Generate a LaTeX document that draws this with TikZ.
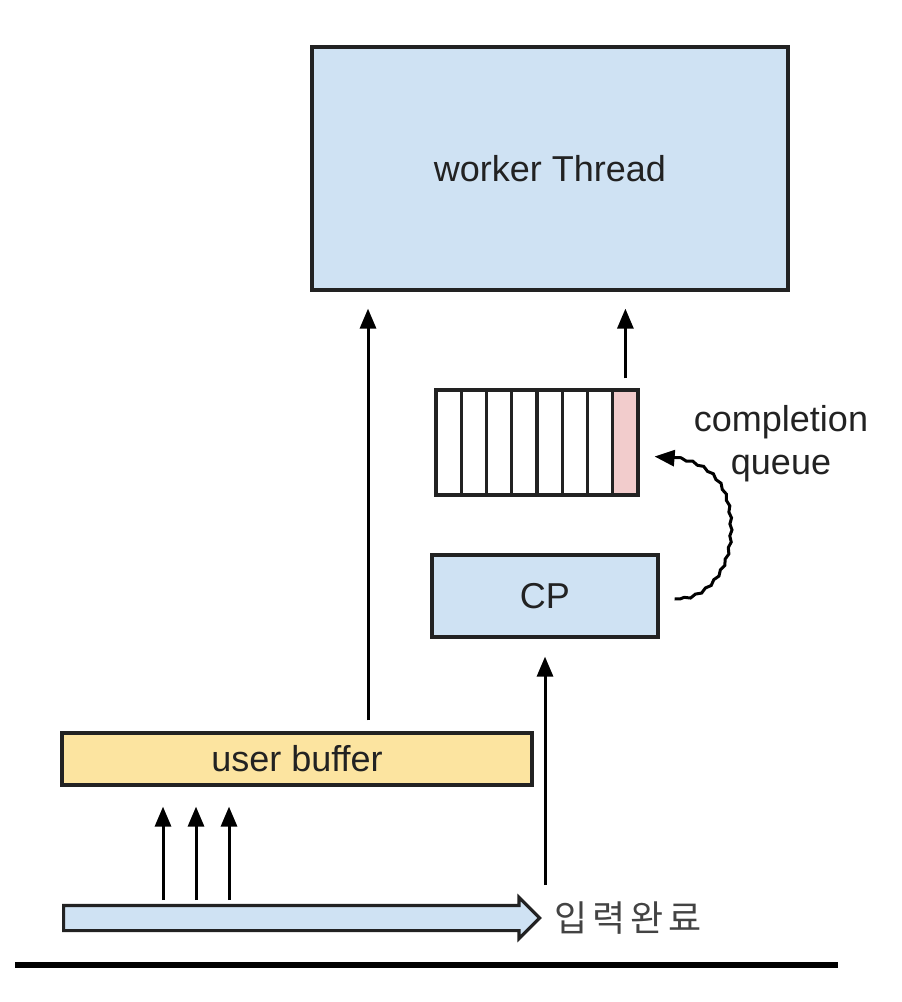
\documentclass[tikz,border=0pt]{standalone}
\usepackage{fontspec}
\setmainfont{Liberation Sans}
\newfontfamily\krfont{Noto Sans CJK KR}
\usepackage{tikz}
\usetikzlibrary{arrows.meta,shapes.arrows,decorations.pathmorphing,calc}
\definecolor{boxblue}{HTML}{CFE2F3}
\definecolor{bufyellow}{HTML}{FCE4A0}
\definecolor{slotred}{HTML}{F2CCCC}
\definecolor{ink}{HTML}{222222}

\begin{document}
\begin{tikzpicture}[x=1pt,y=-1pt]
\tikzstyle{box}=[draw=ink,line width=3.2pt,inner sep=0pt,text=ink,font=\fontsize{36}{43}\selectfont]
\tikzstyle{slot}=[draw=ink,line width=3.2pt,fill=white,minimum width=25.2pt,minimum height=105pt,inner sep=0pt]
\tikzstyle{arr}=[line width=3pt,-{Triangle[width=16pt,length=20pt]}]
\useasboundingbox (0,0) rectangle (902,1002);
\node[box,fill=boxblue,minimum width=476pt,minimum height=243pt] (worker) at (550,168.5) {worker Thread};
\foreach \i in {1,...,8}
	\node[slot] (q\i) at (436+25.25*\i-12.6,442.5) {};
\node[slot,fill=slotred] at (q8) {};
\node[box,fill=boxblue,minimum width=226pt,minimum height=82pt] (cp) at (545,596) {CP};
\node[box,fill=bufyellow,minimum width=470pt,minimum height=52pt] (buffer) at (297,759) {user buffer};
\node[single arrow,draw=ink,line width=3.2pt,fill=boxblue,inner sep=0pt,minimum height=476pt,
	minimum width=38pt,single arrow head extend=8pt,single arrow tip angle=90,anchor=tail] (input) at (62,918) {\rule{0pt}{22pt}};
\node[anchor=west,text=ink!85,font=\krfont\fontsize{36}{40}\selectfont] (done) at (551,918) {입\hspace{5pt}력\hspace{5pt}완\hspace{5pt}료};
\node[align=center,text=ink,font=\fontsize{36}{43}\selectfont] (cqlabel) at (781,444) {completion\\queue};
\draw[line width=6pt] (15,965) -- (838,965);
\coordinate (up) at (368,0);
\coordinate (cpin) at (545,885);
\draw[arr,shorten <=11pt,shorten >=17pt] (buffer.north -| up) -- (worker.south -| up);
\draw[arr,shorten <=10pt,shorten >=17pt] (q8.north) -- (q8.north |- worker.south);
\draw[arr,shorten >=18pt] (cpin) -- (cp.south);
\foreach \x in {163,196,229}{
	\coordinate (in\x) at (\x,900);
	\draw[arr,shorten >=20pt] (in\x) -- (in\x |- buffer.south);
}
\draw[arr,decorate,decoration={snake,amplitude=1pt,segment length=12pt,pre length=6pt,post length=16pt}]
	($(cp.east)+(15,3)$) .. controls (702,600) and (728,572) .. (728,530)
	.. controls (728,482) and (706,458) .. ($(q8.east)+(15,14)$);
\end{tikzpicture}
\end{document}
